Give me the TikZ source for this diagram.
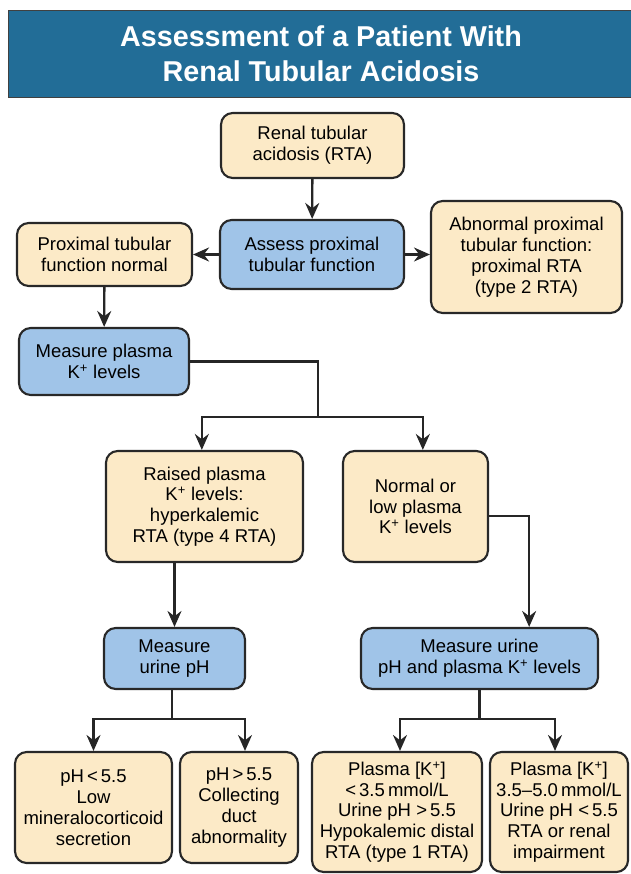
\documentclass[tikz,border=0pt]{standalone}
\usepackage{fontspec}
\setmainfont{Liberation Sans}
\usetikzlibrary{arrows.meta}

\definecolor{headblue}{RGB}{34,109,151}
\definecolor{findfill}{RGB}{252,234,199}
\definecolor{stepfill}{RGB}{160,196,232}
\definecolor{edge}{RGB}{40,40,40}

\begin{document}
\begin{tikzpicture}[
  box/.style={draw=edge, line width=1.8pt, rounded corners=3.5mm, align=center,
    inner sep=0pt, font=\fontsize{15.8}{17.8}\selectfont},
  finding/.style={box, fill=findfill},
  action/.style={box, fill=stepfill},
  link/.style={draw=black!85, line width=2pt},
  arrow/.style={link, -{Stealth[length=4.8mm, width=4.2mm, inset=1.6mm]}}
]
  \useasboundingbox (0,0) rectangle (18.9,-26.22);
  \filldraw[fill=headblue, draw=black!75, line width=0.8pt] (0.24,-0.3) rectangle (19.4,-2.91);
  \node[text=white, align=center, font=\fontsize{24.5}{29.5}\selectfont\bfseries] (title) at (9.63,-1.62)
    {Assessment of a Patient With\\Renal Tubular Acidosis};

  \node[finding, minimum width=5.49cm, minimum height=1.95cm] (rta) at (9.375,-4.365)
    {Renal tubular\\acidosis (RTA)};
  \node[action, minimum width=5.52cm, minimum height=2.07cm] (assess) at (9.36,-7.635)
    {Assess proximal\\tubular function};
  \node[finding, minimum width=5.25cm, minimum height=1.89cm] (proxok) at (3.135,-7.635)
    {Proximal tubular\\function normal};
  \node[finding, minimum width=5.73cm, minimum height=3.36cm] (proxrta) at (15.795,-7.71)
    {Abnormal proximal\\tubular function:\\proximal RTA\\(type 2 RTA)};
  \node[action, minimum width=5.1cm, minimum height=2.01cm] (measK) at (3.12,-10.845)
    {Measure plasma\\K\textsuperscript{+} levels};
  \node[finding, minimum width=5.91cm, minimum height=3.33cm] (highK) at (6.135,-15.195)
    {Raised plasma\\K\textsuperscript{+} levels:\\hyperkalemic\\RTA (type 4 RTA)};
  \node[finding, minimum width=4.35cm, minimum height=3.33cm] (lowK) at (12.465,-15.195)
    {Normal or\\low plasma\\K\textsuperscript{+} levels};
  \node[action, minimum width=4.23cm, minimum height=1.83cm] (measpH) at (5.235,-19.755)
    {Measure\\urine pH};
  \node[action, minimum width=7.11cm, minimum height=1.83cm] (measpHK) at (14.385,-19.755)
    {Measure urine\\pH and plasma K\textsuperscript{+} levels};
  \node[finding, minimum width=4.71cm, minimum height=3.33cm] (lowmin) at (2.805,-24.225)
    {pH\,<\,5.5\\Low\\mineralocorticoid\\secretion};
  \node[finding, minimum width=3.54cm, minimum height=3.33cm] (duct) at (7.17,-24.225)
    {pH\,>\,5.5\\Collecting\\duct\\abnormality};
  \node[finding, minimum width=5.1cm, minimum height=3.6cm] (type1) at (11.91,-24.36)
    {Plasma [K\textsuperscript{+}]\\<\,3.5\,mmol/L\\Urine pH >\,5.5\\Hypokalemic distal\\RTA (type 1 RTA)};
  \node[finding, minimum width=4.14cm, minimum height=3.6cm] (renal) at (16.77,-24.36)
    {Plasma [K\textsuperscript{+}]\\3.5--5.0\,mmol/L\\Urine pH <\,5.5\\RTA or renal\\impairment};

  \coordinate (kfork) at (9.54,-12.51);
  \path (measpH.south) ++(-0.07,-0.87) coordinate (phfork);
  \path (measpHK.south) ++(0,-0.87) coordinate (phkfork);

  \draw[arrow] (rta) -- (assess);
  \draw[arrow] (assess.west) -- (proxok.east);
  \draw[arrow] (assess.east) -- (assess.east -| proxrta.west);
  \draw[arrow] (proxok) -- (measK);
  \draw[link] (measK.east) -| (kfork);
  \draw[arrow] (kfork) -| ([xshift=-0.08cm]highK.north);
  \draw[arrow] (kfork) -| ([xshift=0.22cm]lowK.north);
  \draw[arrow] (highK.south -| measpH.north) -- (measpH.north);
  \draw[arrow] ([yshift=-2.85mm]lowK.east) -| ([xshift=1.49cm]measpHK.north);
  \draw[link] (measpH.south -| phfork) -- (phfork);
  \draw[arrow] (phfork) -| (lowmin.north);
  \draw[arrow] (phfork) -| ([xshift=0.18cm]duct.north);
  \draw[link] (measpHK.south) -- (phkfork);
  \draw[arrow] (phkfork) -| ([xshift=0.09cm]type1.north);
  \draw[arrow] (phkfork) -| ([xshift=-0.12cm]renal.north);
\end{tikzpicture}
\end{document}
